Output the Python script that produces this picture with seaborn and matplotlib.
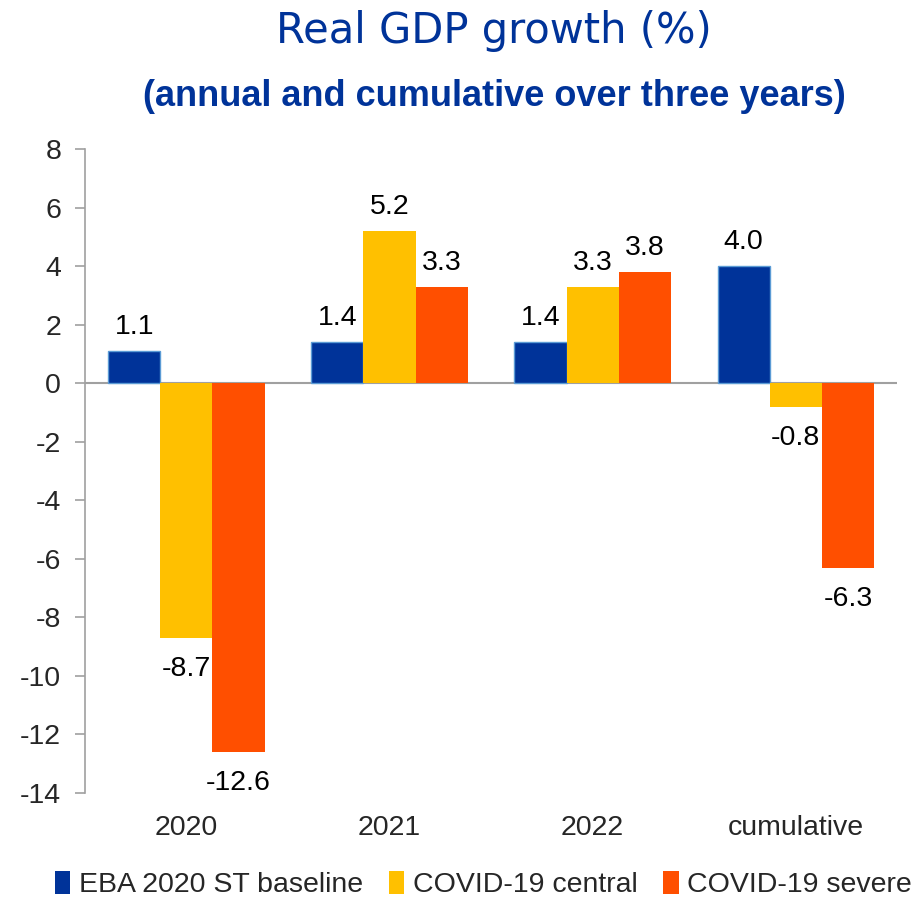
import matplotlib
matplotlib.use("Agg")
import matplotlib.pyplot as plt
import seaborn as sns
import pandas as pd
from matplotlib.patches import Patch

categories = ["2020", "2021", "2022", "cumulative"]
series_names = ["EBA 2020 ST baseline", "COVID-19 central", "COVID-19 severe"]
baseline = [1.1, 1.4, 1.4, 4.0]
central = [-8.7, 5.2, 3.3, -0.8]
severe = [-12.6, 3.3, 3.8, -6.3]
colors = ["#003399", "#FFC000", "#FF4F00"]
yticks = [8, 6, 4, 2, 0, -2, -4, -6, -8, -10, -12, -14]

rows = []
for name, vals in zip(series_names, [baseline, central, severe]):
    for c, v in zip(categories, vals):
        rows.append({"category": c, "series": name, "value": v})
df = pd.DataFrame(rows)

sns.set_style("white")
plt.rcParams["font.family"] = ["Liberation Sans", "DejaVu Sans"]

fig = plt.figure(figsize=(9.12, 8.99), dpi=100)
ax = fig.add_axes([0.093, 0.118, 0.891, 0.716])

sns.barplot(data=df, x="category", y="value", hue="series", order=categories,
            hue_order=series_names, palette=colors, width=0.77, ax=ax,
            saturation=1, legend=False)

for i, cont in enumerate(ax.containers):
    for bar in cont:
        if i == 0:
            bar.set_edgecolor("#5B9BD5")
            bar.set_linewidth(1.0)
        else:
            bar.set_linewidth(0)
        h = bar.get_height()
        x = bar.get_x() + bar.get_width() / 2
        if h >= 0:
            ax.annotate(f"{h:.1f}", (x, h), xytext=(0, 8), textcoords="offset points",
                        ha="center", va="bottom", fontsize=20.5, color="black")
        else:
            ax.annotate(f"{h:.1f}", (x, h), xytext=(0, -13), textcoords="offset points",
                        ha="center", va="top", fontsize=20.5, color="black")

ax.set_ylim(-14, 8)
ax.set_xlim(-0.5, 3.5)
ax.set_yticks(yticks)
ax.set_yticklabels([str(t) for t in yticks], fontsize=20.5)
ax.axhline(0, color="#A0A0A0", lw=1.5, zorder=0)
for s in ["top", "right", "bottom"]:
    ax.spines[s].set_visible(False)
ax.spines["left"].set_color("#A0A0A0")
ax.spines["left"].set_linewidth(1.2)
ax.tick_params(axis="y", which="both", left=True, length=7, width=1.2, color="#A0A0A0", pad=10)
ax.tick_params(axis="x", length=0, pad=16, labelsize=20.5)
ax.set_xlabel("")
ax.set_ylabel("")

fig.text(0.542, 0.965, "Real GDP growth (%)", ha="center", va="center",
         fontsize=30, color="#003399", fontfamily=["DejaVu Sans"])
fig.text(0.542, 0.893, "(annual and cumulative over three years)", ha="center", va="center",
         fontsize=26, color="#003399", fontweight="bold")

handles = [Patch(facecolor=c, edgecolor="none") for c in colors]
fig.legend(handles, series_names, loc="center", bbox_to_anchor=(0.53, 0.016),
           ncol=3, frameon=False, fontsize=20.5, handlelength=0.55, handleheight=0.85,
           handletextpad=0.3, columnspacing=0.9)

fig.savefig("out.png", dpi=100)
